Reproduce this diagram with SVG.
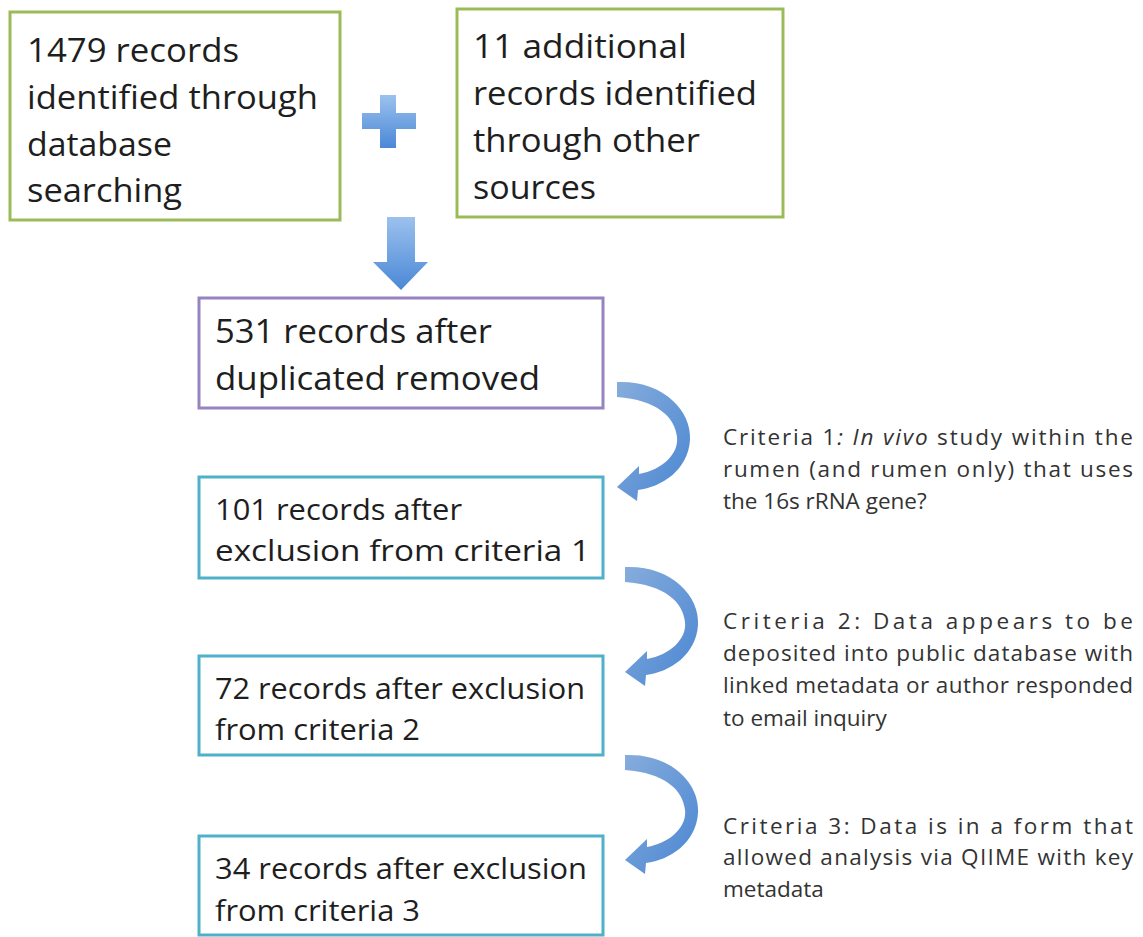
<svg xmlns="http://www.w3.org/2000/svg" width="1143" height="937" viewBox="0 0 1143 937">
<style>
.box{fill:#fff;stroke-width:3}
.g{stroke:#9bbb59}
.p{stroke:#9783c0}
.c{stroke:#4eb0c9}
.bt{font-family:"Open Sans","Liberation Sans",sans-serif;font-size:33px;fill:#1e1e1e}
.bs{font-family:"Open Sans","Liberation Sans",sans-serif;font-size:29px;fill:#1e1e1e}
.ct{font-family:"Open Sans","Liberation Sans",sans-serif;font-size:22.5px;fill:#333}
</style>
<defs>
<linearGradient id="bl" x1="0" y1="0" x2="0" y2="1">
<stop offset="0" stop-color="#9cc1ee"/>
<stop offset="1" stop-color="#4a88d6"/>
</linearGradient>
<linearGradient id="cv" x1="0" y1="0" x2="1" y2="1">
<stop offset="0" stop-color="#86acdc"/>
<stop offset="1" stop-color="#4a86d2"/>
</linearGradient>
<path id="curve" d="M0,0 C45,-2 75,28 73,58 C71,88 45,105 21,108 L20,119 L0,105 L22,84 L22,92 C45,88 62,72 60,55 C58,35 40,18 0,15 Z" fill="url(#cv)"/>
</defs>
<rect width="1143" height="937" fill="#fff"/>
<g id="n1"><rect class="box g" x="10" y="12" width="330" height="208"/>
<text class="bt" x="27" y="62" textLength="212" lengthAdjust="spacingAndGlyphs">1479 records</text>
<text class="bt" x="27" y="109" textLength="291" lengthAdjust="spacingAndGlyphs">identified through</text>
<text class="bt" x="27" y="156" textLength="145" lengthAdjust="spacingAndGlyphs">database</text>
<text class="bt" x="27" y="202" textLength="155" lengthAdjust="spacingAndGlyphs">searching</text></g>
<g id="n2"><rect class="box g" x="457" y="9" width="326" height="208"/>
<text class="bt" x="473" y="58" textLength="214" lengthAdjust="spacingAndGlyphs">11 additional</text>
<text class="bt" x="473" y="105" textLength="284" lengthAdjust="spacingAndGlyphs">records identified</text>
<text class="bt" x="473" y="152" textLength="227" lengthAdjust="spacingAndGlyphs">through other</text>
<text class="bt" x="473" y="199" textLength="123" lengthAdjust="spacingAndGlyphs">sources</text></g>
<g id="plus"><path d="M380,95 H396 V113 H416 V129 H396 V148 H380 V129 H362 V113 H380 Z" fill="url(#bl)"/></g>
<g id="n3"><rect class="box p" x="199" y="298" width="404" height="110"/>
<text class="bt" x="215" y="343" textLength="277" lengthAdjust="spacingAndGlyphs">531 records after</text>
<text class="bt" x="215" y="390" textLength="325" lengthAdjust="spacingAndGlyphs">duplicated removed</text></g>
<g id="n4"><rect class="box c" x="199" y="477" width="404" height="101"/>
<text class="bs" x="215" y="520" textLength="247" lengthAdjust="spacingAndGlyphs">101 records after</text>
<text class="bs" x="215" y="561" textLength="375" lengthAdjust="spacingAndGlyphs">exclusion from criteria 1</text></g>
<g id="n5"><rect class="box c" x="199" y="656" width="404" height="99"/>
<text class="bs" x="215" y="699" textLength="370" lengthAdjust="spacingAndGlyphs">72 records after exclusion</text>
<text class="bs" x="215" y="740" textLength="205" lengthAdjust="spacingAndGlyphs">from criteria 2</text></g>
<g id="n6"><rect class="box c" x="199" y="836" width="404" height="99"/>
<text class="bs" x="215" y="879" textLength="372" lengthAdjust="spacingAndGlyphs">34 records after exclusion</text>
<text class="bs" x="215" y="921" textLength="205" lengthAdjust="spacingAndGlyphs">from criteria 3</text></g>
<g id="connectors">
<path d="M387,217 H415 V262 H428 L401,290 L373,262 H387 Z" fill="url(#bl)"/>
<use href="#curve" transform="translate(617,382)"/>
<use href="#curve" transform="translate(625,567)"/>
<use href="#curve" transform="translate(625,755)"/>
</g>
<g id="c1">
<text class="ct" x="723" y="445" textLength="410" lengthAdjust="spacing">Criteria 1<tspan font-style="italic">:</tspan> <tspan font-style="italic">In vivo</tspan> study within the</text>
<text class="ct" x="723" y="477" textLength="410" lengthAdjust="spacing">rumen (and rumen only) that uses</text>
<text class="ct" x="723" y="509">the 16s rRNA gene?</text>
</g>
<g id="c2">
<text class="ct" x="723" y="629" textLength="410" lengthAdjust="spacing">Criteria 2: Data appears to be</text>
<text class="ct" x="723" y="661" textLength="410" lengthAdjust="spacing">deposited into public database with</text>
<text class="ct" x="723" y="693" textLength="410" lengthAdjust="spacing">linked metadata or author responded</text>
<text class="ct" x="723" y="726">to email inquiry</text>
</g>
<g id="c3">
<text class="ct" x="723" y="834" textLength="410" lengthAdjust="spacing">Criteria 3: Data is in a form that</text>
<text class="ct" x="723" y="865" textLength="410" lengthAdjust="spacing">allowed analysis via QIIME with key</text>
<text class="ct" x="723" y="897">metadata</text>
</g>
</svg>
